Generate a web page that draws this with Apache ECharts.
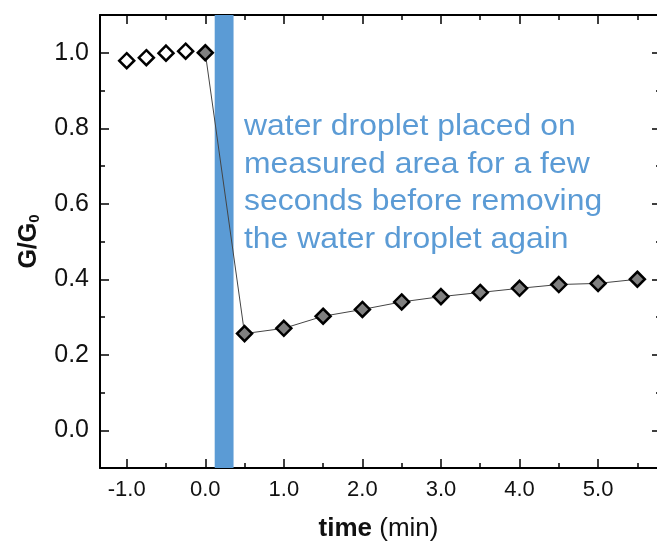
<!DOCTYPE html>
<html lang="en">
<head>
    <meta charset="UTF-8">
    <title>G/G0 vs time</title>
    <style>
        html, body { margin: 0; padding: 0; background: #fff; }
        #chart { width: 657px; height: 547px; }
    </style>
</head>
<body>
    <div id="chart"></div>
    <script src="https://cdn.jsdelivr.net/npm/echarts@6/dist/echarts.min.js"></script>
    <script>
        // 数据
        var preTime = [-1.0, -0.75, -0.5, -0.25];
        var preG = [0.979, 0.987, 0.999, 1.004];
        var postTime = [0.0, 0.5, 1.0, 1.5, 2.0, 2.5, 3.0, 3.5, 4.0, 4.5, 5.0, 5.5];
        var postG = [1.0, 0.256, 0.27, 0.302, 0.32, 0.34, 0.354, 0.365, 0.376, 0.386, 0.389, 0.40];
        var dropletSpan = [0.12, 0.36];
        var xMajor = [-1, 0, 1, 2, 3, 4, 5];
        var xMinor = [-1, -0.5, 0, 0.5, 1, 1.5, 2, 2.5, 3, 3.5, 4, 4.5, 5, 5.5];
        var yMajor = [0, 0.2, 0.4, 0.6, 0.8, 1.0];
        var yMinor = [0, 0.1, 0.2, 0.3, 0.4, 0.5, 0.6, 0.7, 0.8, 0.9, 1.0];
        var note = [
            'water droplet placed on',
            'measured area for a few',
            'seconds before removing',
            'the water droplet again'
        ];

        var font = '"Liberation Sans", Arial, sans-serif';
        var xMin = -1.34, xMax = 5.75, yMin = -0.1, yMax = 1.1;

        function xAx(pos, ticks, len, labels) {
            return {
                type: 'value', position: pos, min: xMin, max: xMax,
                splitLine: { show: false },
                axisLine: { show: len > 6, onZero: false, lineStyle: { color: '#000', width: 2 } },
                axisTick: { show: true, inside: true, length: len, customValues: ticks,
                    lineStyle: { color: '#000', width: 1.5 } },
                axisLabel: { show: labels, customValues: xMajor, margin: 11,
                    color: '#111', fontSize: 22, fontFamily: font,
                    formatter: function (v) { return v.toFixed(1); } }
            };
        }
        function yAx(pos, ticks, len, labels) {
            return {
                type: 'value', position: pos, min: yMin, max: yMax,
                splitLine: { show: false },
                axisLine: { show: len > 6 && pos === 'left', onZero: false, lineStyle: { color: '#000', width: 2 } },
                axisTick: { show: true, inside: true, length: len, customValues: ticks,
                    lineStyle: { color: '#000', width: 1.5 } },
                axisLabel: { show: labels, customValues: yMajor, margin: 11,
                    color: '#111', fontSize: 25, fontFamily: font,
                    formatter: function (v) { return v.toFixed(1); } }
            };
        }

        var xAxes = [xAx('bottom', xMajor, 9, true), xAx('bottom', xMinor, 5, false),
                     xAx('top', xMajor, 9, false), xAx('top', xMinor, 5, false)];
        xAxes[0].name = '{b|time} (min)';
        xAxes[0].nameLocation = 'middle';
        xAxes[0].nameGap = 48;
        xAxes[0].nameTextStyle = { fontSize: 26, fontFamily: font, color: '#111',
            rich: { b: { fontSize: 26, fontWeight: 'bold', fontFamily: font, color: '#111' } } };

        var yAxes = [yAx('left', yMajor, 9, true), yAx('left', yMinor, 5, false),
                     yAx('right', yMajor, 9, false), yAx('right', yMinor, 5, false)];
        yAxes[2].offset = 4;
        yAxes[3].offset = 4;
        yAxes[0].name = '{b|G/G}{s|0}';
        yAxes[0].nameLocation = 'middle';
        yAxes[0].nameGap = 58;
        yAxes[0].nameTextStyle = {
            rich: {
                b: { fontSize: 25, fontWeight: 'bold', fontFamily: font, color: '#111' },
                s: { fontSize: 15, fontWeight: 'bold', fontFamily: font, color: '#111', padding: [10, 0, 0, 0] }
            }
        };

        var chart = echarts.init(document.getElementById('chart'));
        chart.setOption({
            animation: false,
            grid: { left: 100, right: 0, top: 15, bottom: 78 },
            xAxis: xAxes,
            yAxis: yAxes,
            graphic: [{
                type: 'text', x: 244, y: 108, scaleX: 1.1, z: 20,
                style: { text: note.join('\n'), fill: '#5b9bd5', fontSize: 29,
                    fontFamily: font, lineHeight: 37.7 }
            }],
            series: [
                {
                    type: 'line', data: [], z: 6,
                    markArea: {
                        silent: true,
                        itemStyle: { color: '#5b9bd5', opacity: 1 },
                        data: [[{ xAxis: dropletSpan[0] }, { xAxis: dropletSpan[1] }]]
                    }
                },
                {
                    type: 'scatter', symbol: 'diamond', symbolSize: 15, z: 8,
                    data: preTime.map(function (t, i) { return [t, preG[i]]; }),
                    itemStyle: { color: '#fff', borderColor: '#000', borderWidth: 2.5, opacity: 1 }
                },
                {
                    type: 'line', symbol: 'diamond', symbolSize: 15, z: 3,
                    data: postTime.map(function (t, i) { return [t, postG[i]]; }),
                    lineStyle: { color: '#444', width: 1 },
                    itemStyle: { color: '#808080', borderColor: '#000', borderWidth: 2.5 }
                }
            ]
        });
    </script>
</body>
</html>
